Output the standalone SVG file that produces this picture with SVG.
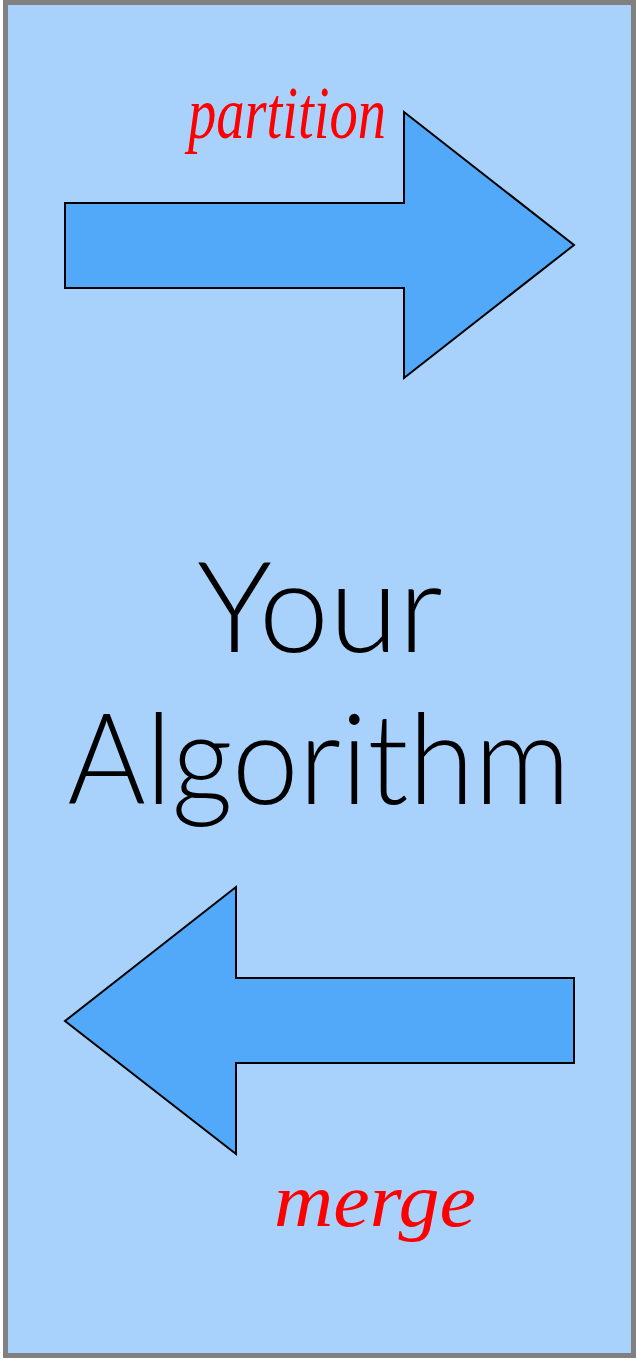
<svg xmlns="http://www.w3.org/2000/svg" width="636" height="1360" viewBox="0 0 636 1360">
<style>
.arrow{fill:#52A8F9;stroke:#000;stroke-width:2;stroke-linejoin:miter}
.big{font-family:Lato,"Liberation Sans",sans-serif;font-weight:300;font-size:126px;fill:#000;text-anchor:middle}
.hand{font-family:"Liberation Serif",serif;font-style:italic;fill:#FF0000;}
</style>
<rect x="5.5" y="2.5" width="628" height="1353" fill="#A8D1FB" stroke="#808080" stroke-width="5"/>
<g id="partition-arrow">
<polygon class="arrow" points="65,203 404,203 404,112 574,245 404,378 404,288 65,288"/>
<text class="hand" x="188" y="138" font-size="74" textLength="198" lengthAdjust="spacingAndGlyphs">partition</text>
</g>
<g id="algorithm">
<text class="big" x="320" y="652">Your</text>
<text class="big" x="319" y="804" textLength="503" lengthAdjust="spacingAndGlyphs">Algorithm</text>
</g>
<g id="merge-arrow">
<polygon class="arrow" points="574,978 236,978 236,887 65,1021 236,1154 236,1063 574,1063"/>
<text class="hand" x="274" y="1226" font-size="76" textLength="202" lengthAdjust="spacingAndGlyphs">merge</text>
</g>
<g id="connectors"/>
</svg>
